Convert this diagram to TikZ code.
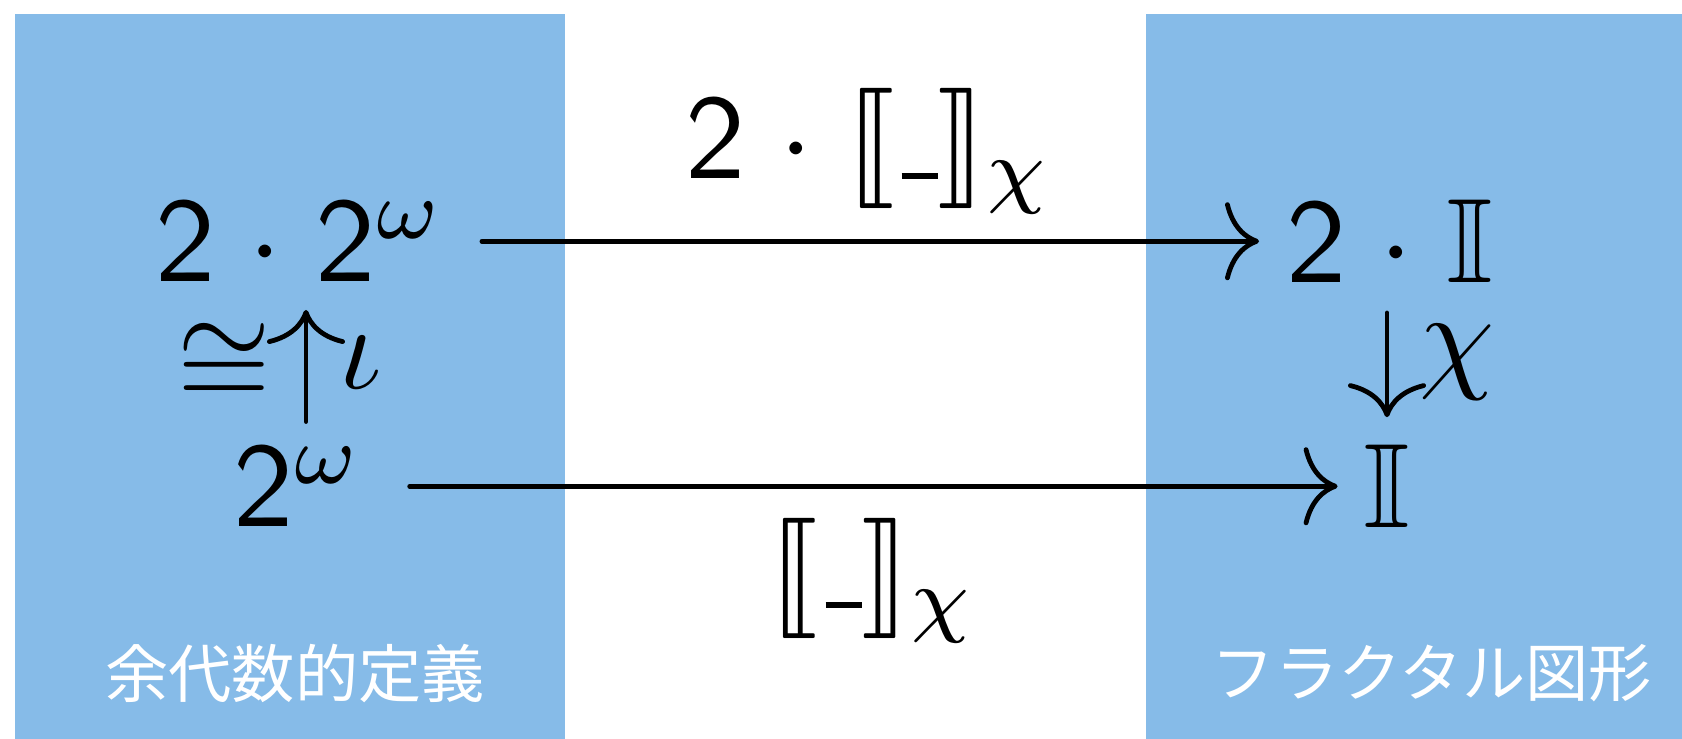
\documentclass[tikz,border=0pt]{standalone}
\usepackage{graphicx}
\usepackage{amssymb}
\usepackage{stmaryrd}
\usepackage{fontspec}
\newfontfamily\jpfont{Noto Sans CJK JP}
\usetikzlibrary{arrows.meta}
\definecolor{panel}{RGB}{134,187,232}
\newcommand{\enl}[1]{\scalebox{3.42}{#1}}
\newcommand{\blank}{\mbox{\kern.06em\vbox{\hrule height 0.5pt width .3em}}}
\newcommand{\two}{\mathsf{2}}
\newcommand{\dotop}{\mkern1mu\cdot\mkern1mu}
\tikzset{
  panelbox/.style={fill=panel, draw=none},
  mathnode/.style={inner sep=0pt, outer sep=0pt, font=\normalsize},
  arr/.style={line width=0.48mm, line cap=round, -{Computer Modern Rightarrow[length=3.4mm,width=7.8mm]}},
  jplabel/.style={text=white, inner sep=0pt, font=\jpfont\fontsize{18}{22}\selectfont}
}
\begin{document}
\begin{tikzpicture}[x=0.1mm, y=-0.1mm]
\useasboundingbox (0,0) rectangle (1682,739);
\fill[panelbox] (15,14) rectangle (565,739);
\fill[panelbox] (1146,14) rectangle (1682,739);

\node[mathnode, anchor=base west] (A) at (155,282) {\enl{$\two\dotop\two^{\omega}$}};
\node[mathnode, anchor=base west] (B) at (1286,283) {\enl{$\two\dotop\mathbb{I}$}};
\node[mathnode, anchor=base west] (C) at (233,527) {\enl{$\two^{\omega}$}};
\node[mathnode, anchor=base] (D) at (1387,528) {\enl{$\mathbb{I}$}};

\node[mathnode, anchor=base] (top) at (869,179) {\enl{$\two\dotop\llbracket\blank\rrbracket_{\chi}$}};
\node[mathnode, anchor=base] (bot) at (873,608) {\enl{$\llbracket\blank\rrbracket_{\chi}$}};

\draw[arr, shorten <=3.7mm, shorten >=2.7mm] (A.east) -- (A.east -| B.west);
\draw[arr, shorten <=4.7mm, shorten >=2.6mm] (C.east) -- (C.east -| D.west);

\draw[arr, shorten <=3.0mm, shorten >=2.8mm] (B.south -| D.north) -- (D.north);
\node[mathnode, anchor=base west] (chiR) at (1419,377) {\enl{$\chi$}};

\coordinate (lx) at (306,0);
\draw[arr, shorten <=2.4mm, shorten >=2.8mm] (C.north -| lx) -- (A.south -| lx);
\node[mathnode, anchor=base] (iso) at (224,400) {\enl{$\cong$}};
\node[mathnode, anchor=base west] (iota) at (339,389) {\enl{$\iota$}};

\node[jplabel] (L1) at (295,673) {余代数的定義};
\node[jplabel] (L2) at (1432,673) {フラクタル図形};
\end{tikzpicture}
\end{document}
